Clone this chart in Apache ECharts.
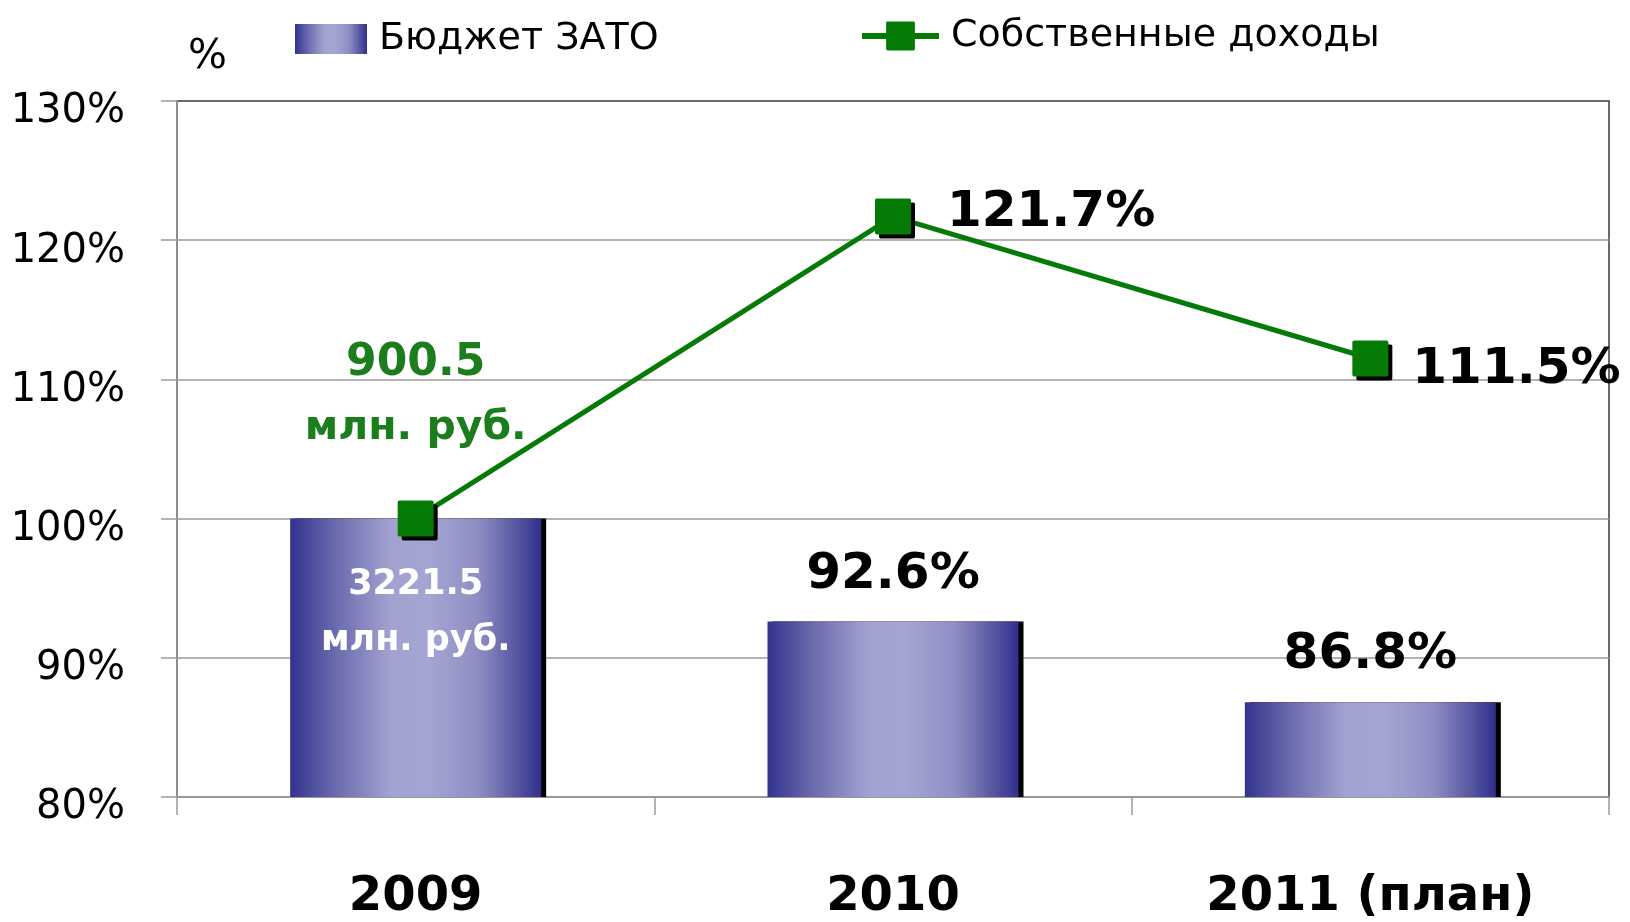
<!DOCTYPE html>
<html>
<head>
<meta charset="utf-8">
<script src="https://cdn.jsdelivr.net/npm/echarts@6/dist/echarts.min.js"></script>
<style>
  html, body { margin: 0; padding: 0; background: #fff; }
  #chart { width: 1630px; height: 922px; }
</style>
</head>
<body>
<div id="chart"></div>
<script>
// ---- data ----
const categories = ['2009', '2010', '2011 (план)'];
const budgetName = 'Бюджет ЗАТО';
const ownIncomeName = 'Собственные доходы';
const budgetValues = [100, 92.6, 86.8];
const ownIncomeValues = [100, 121.7, 111.5];
const budgetNotes = ['3221.5', 'млн. руб.'];      // shown inside the 2009 bar
const ownIncomeNotes = ['900.5', 'млн. руб.'];    // shown above the 2009 point
const yMin = 80, yMax = 130, yStep = 10;
const axisTitle = '%';

// ---- styles ----
const FONT = "'DejaVu Sans', sans-serif";
const barGradient = new echarts.graphic.LinearGradient(0, 0, 1, 0, [
  { offset: 0.00, color: '#33338f' },
  { offset: 0.18, color: '#6a6aae' },
  { offset: 0.40, color: '#a2a2d0' },
  { offset: 0.55, color: '#a5a5d3' },
  { offset: 0.75, color: '#8e8ec4' },
  { offset: 0.90, color: '#5757a2' },
  { offset: 1.00, color: '#30308e' }
]);
const GREEN = '#067a06';
const GREEN_TEXT = '#1c7d1c';
const SQUARE = 'path://M1,0 H19 Q20,0 20,1 V19 Q20,20 19,20 H1 Q0,20 0,19 V1 Q0,0 1,0 Z';

const barData = budgetValues.map((v, i) => {
  if (i === 0) {
    return {
      value: v,
      label: {
        position: 'insideTop',
        distance: 38,
        formatter: budgetNotes.join('\n'),
        color: '#ffffff',
        fontSize: 35,
        lineHeight: 56,
        fontWeight: 'bold',
        fontFamily: FONT
      }
    };
  }
  return { value: v };
});

const lineLabelDistance = [40, 36, 24];
const lineLabelOffset = [[0, 0], [0, -4], [0, 11]];
const lineData = ownIncomeValues.map((v, i) => {
  if (i === 0) {
    return {
      value: v,
      label: {
        position: 'top',
        distance: 40,
        formatter: '{a|' + ownIncomeNotes[0] + '}\n{b|' + ownIncomeNotes[1] + '}',
        rich: {
          a: { fontSize: 44, lineHeight: 65, fontWeight: 'bold', color: GREEN_TEXT, fontFamily: FONT },
          b: { fontSize: 41, lineHeight: 65, fontWeight: 'bold', color: GREEN_TEXT, fontFamily: FONT }
        }
      }
    };
  }
  return {
    value: v,
    label: { position: 'right', distance: lineLabelDistance[i], offset: lineLabelOffset[i] }
  };
});

const chart = echarts.init(document.getElementById('chart'), null, { renderer: 'canvas' });
chart.setOption({
  animation: false,
  backgroundColor: '#ffffff',
  grid: {
    left: 177, right: 21, top: 101, bottom: 124,
    show: true, borderColor: '#3a3a3a', borderWidth: 1.5, backgroundColor: 'transparent'
  },
  legend: [
    {
      data: [budgetName],
      left: 290, top: 15,
      itemWidth: 72, itemHeight: 30,
      icon: 'rect',
      textStyle: { fontSize: 38, color: '#000', fontFamily: FONT, padding: [23, 0, 0, 7] }
    },
    {
      data: [ownIncomeName],
      left: 854, top: 12,
      itemWidth: 77, itemHeight: 36,
      lineStyle: { width: 6 },
      textStyle: { fontSize: 38, color: '#000', fontFamily: FONT, padding: [18, 0, 0, 7] }
    }
  ],
  graphic: [
    {
      type: 'text',
      left: 188, top: 37,
      style: { text: axisTitle, fontSize: 41, fontFamily: FONT, fill: '#000' }
    }
  ],
  xAxis: {
    type: 'category',
    data: categories,
    axisLine: { show: true, lineStyle: { color: '#9a9a9a', width: 1.5 } },
    axisTick: { show: true, length: 18, lineStyle: { color: '#9a9a9a', width: 1.5 } },
    axisLabel: {
      margin: 77, fontSize: 48, fontWeight: 'bold', color: '#000', fontFamily: FONT
    },
    splitLine: { show: false }
  },
  yAxis: {
    type: 'value',
    min: yMin, max: yMax, interval: yStep,
    axisLine: { show: true, lineStyle: { color: '#9a9a9a', width: 1.5 } },
    axisTick: { show: true, length: 16, lineStyle: { color: '#9a9a9a', width: 1.5 } },
    axisLabel: {
      margin: 52, fontSize: 40, color: '#000', fontFamily: FONT,
      verticalAlign: 'top', lineHeight: 22,
      formatter: '{value}%'
    },
    splitLine: { show: true, showMaxLine: false, lineStyle: { color: '#9a9a9a', width: 1.5 } }
  },
  series: [
    {
      name: budgetName,
      type: 'bar',
      data: barData,
      barWidth: 251,
      itemStyle: {
        color: barGradient,
        shadowColor: '#000000',
        shadowBlur: 0,
        shadowOffsetX: 5,
        shadowOffsetY: 0
      },
      label: {
        show: true,
        position: 'top',
        distance: 22,
        formatter: '{c}%',
        fontSize: 50,
        fontWeight: 'bold',
        color: '#000',
        fontFamily: FONT
      },
      z: 2
    },
    {
      name: ownIncomeName,
      type: 'line',
      data: lineData,
      symbol: SQUARE,
      symbolSize: 36,
      lineStyle: { color: GREEN, width: 5 },
      itemStyle: {
        color: GREEN,
        shadowColor: '#000000',
        shadowBlur: 0,
        shadowOffsetX: 4,
        shadowOffsetY: 4
      },
      label: {
        show: true,
        position: 'right',
        formatter: '{c}%',
        fontSize: 50,
        fontWeight: 'bold',
        color: '#000',
        fontFamily: FONT
      },
      z: 5
    }
  ]
});
</script>
</body>
</html>
